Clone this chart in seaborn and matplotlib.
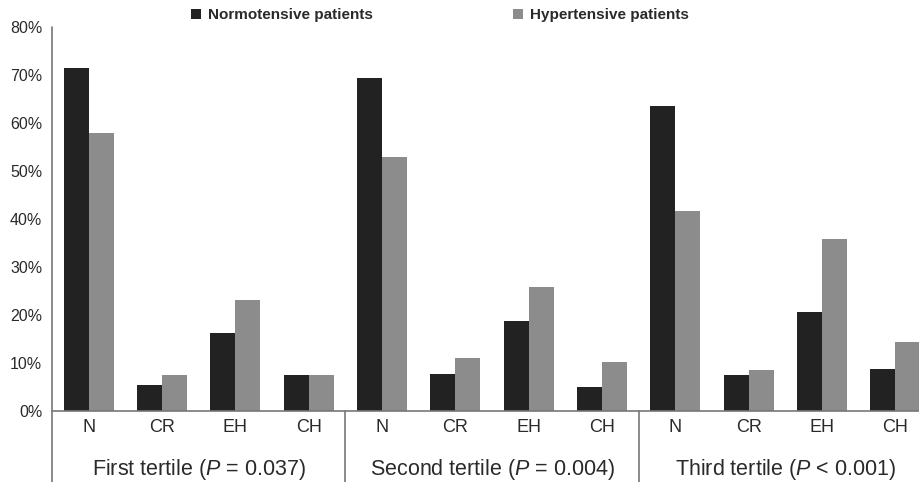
import matplotlib
matplotlib.use("Agg")
import matplotlib.pyplot as plt
from matplotlib.patches import Patch
import seaborn as sns
import pandas as pd

# Prevalence (%) of left-ventricular geometry patterns by tertile
categories = ["N", "CR", "EH", "CH"]
tertiles = ["First tertile", "Second tertile", "Third tertile"]
p_labels = ["= 0.037", "= 0.004", "< 0.001"]
series_names = ["Normotensive patients", "Hypertensive patients"]
normotensive = [71.5, 5.4, 16.3, 7.4,
                69.3, 7.8, 18.7, 4.9,
                63.5, 7.4, 20.7, 8.8]
hypertensive = [58.0, 7.6, 23.1, 7.4,
                53.0, 11.1, 25.8, 10.2,
                41.6, 8.5, 35.8, 14.4]
y_ticks = [0, 10, 20, 30, 40, 50, 60, 70, 80]

sns.set_theme(style="white")
plt.rcParams["font.family"] = ["Liberation Sans", "DejaVu Sans"]
plt.rcParams["mathtext.fontset"] = "custom"
plt.rcParams["mathtext.it"] = "Liberation Sans:italic"
plt.rcParams["mathtext.rm"] = "Liberation Sans"

slots = [f"{t}|{c}" for t in tertiles for c in categories]
rows = []
for i, s in enumerate(slots):
    rows.append({"slot": s, "group": series_names[0], "value": normotensive[i]})
    rows.append({"slot": s, "group": series_names[1], "value": hypertensive[i]})
df = pd.DataFrame(rows)

colors = {series_names[0]: "#222222", series_names[1]: "#8c8c8c"}
text_color = "#2a2a2a"
line_color = "#777777"

fig = plt.figure(figsize=(9.19, 4.82), dpi=100)
W, H = 919, 482
x0, x1 = 52, 932
y0, y1 = 411, 27
ax = fig.add_axes([x0 / W, (H - y0) / H, (x1 - x0) / W, (y0 - y1) / H])

sns.barplot(data=df, x="slot", y="value", hue="group", order=slots,
            hue_order=series_names, palette=colors, width=0.68,
            saturation=1, edgecolor="none", legend=False, ax=ax)

ax.set_xlim(-0.5, len(slots) - 0.5)
ax.set_ylim(0, 80)
ax.set_yticks(y_ticks)
ax.set_yticklabels([f"{v}%" for v in y_ticks])
ax.set_xticks(range(len(slots)))
ax.set_xticklabels([s.split("|")[1] for s in slots])
ax.set_xlabel("")
ax.set_ylabel("")
ax.tick_params(axis="x", length=0, pad=6, labelsize=13, colors=text_color)
ax.tick_params(axis="y", length=0, pad=7, labelsize=11.5, colors=text_color)

for side in ["top", "right", "left"]:
    ax.spines[side].set_visible(False)
ax.spines["bottom"].set_color(line_color)
ax.spines["bottom"].set_linewidth(1.2)

# Vertical axis line and group separators reaching down through the labels
trans = ax.get_xaxis_transform()
ax.plot([-0.5, -0.5], [1.0, -0.2], transform=trans, color=line_color,
        lw=1.2, clip_on=False)
for xs in [3.5, 7.5]:
    ax.plot([xs, xs], [0.0, -0.2], transform=trans, color=line_color,
            lw=1.2, clip_on=False)

# Tertile labels under each group
for k, (t, p) in enumerate(zip(tertiles, p_labels)):
    ax.text(4 * k + 1.5, -0.153, f"{t} ($\\mathit{{P}}$ {p})", transform=trans,
            ha="center", va="center", fontsize=15.5, color=text_color)

handles = [Patch(facecolor=colors[n], edgecolor="none") for n in series_names]
fig.legend(handles, series_names, loc="center",
           bbox_to_anchor=(440 / W, 1 - 15 / H), ncol=2, frameon=False,
           columnspacing=9.2, handletextpad=0.45, handlelength=0.65,
           handleheight=0.65, prop={"size": 11, "weight": "bold"},
           labelcolor=text_color)

fig.savefig("out.png", dpi=100, facecolor="white")
